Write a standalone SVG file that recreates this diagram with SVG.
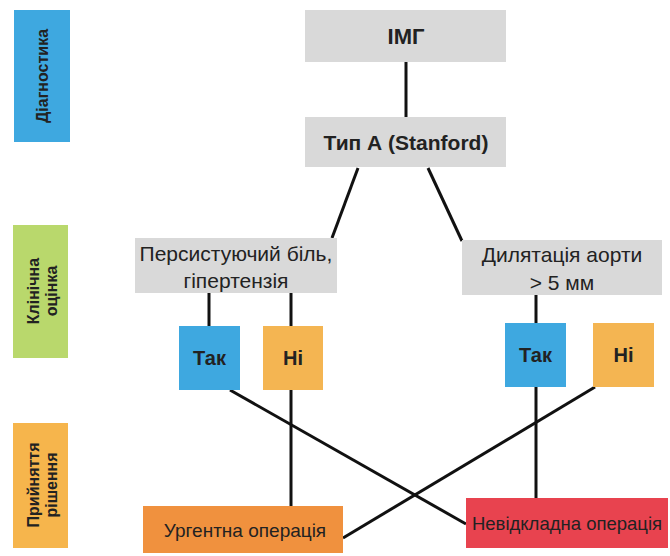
<svg xmlns="http://www.w3.org/2000/svg" width="670" height="556" viewBox="0 0 670 556">
<style>
text{font-family:"Liberation Sans",Arial,sans-serif;fill:#222;text-anchor:middle}
.b{font-weight:bold}
.gray{fill:#d9d9d9}
.blue{fill:#3ea8e0}
.yel{fill:#f4b552}
.side{font-size:16px;font-weight:bold}
.lbl{font-size:21px}
.ln{stroke:#111;stroke-width:3;fill:none}
</style>
<rect width="670" height="556" fill="#fff"/>
<g id="sidebar">
<g id="s-diag"><rect x="14" y="10" width="56" height="132" fill="#3ea8e0"/><text class="side" transform="translate(48,76) rotate(-90)">Діагностика</text></g>
<g id="s-clin"><rect x="13" y="225" width="55" height="133" fill="#b9d86c"/><text class="side" transform="translate(39,291) rotate(-90)">Клінічна</text><text class="side" transform="translate(57,291) rotate(-90)">оцінка</text></g>
<g id="s-dec"><rect x="13" y="423" width="55" height="125" fill="#f6b54c"/><text class="side" transform="translate(39,485) rotate(-90)">Прийняття</text><text class="side" transform="translate(57,485) rotate(-90)">рішення</text></g>
</g>
<g id="connectors">
<line class="ln" x1="406" y1="62" x2="406" y2="117"/>
<line class="ln" x1="358" y1="168" x2="332" y2="238"/>
<line class="ln" x1="428" y1="168" x2="462" y2="241"/>
<line class="ln" x1="209" y1="293" x2="209" y2="326"/>
<line class="ln" x1="291" y1="293" x2="291" y2="326"/>
<line class="ln" x1="536" y1="295" x2="536" y2="323"/>
<line class="ln" x1="291" y1="390" x2="291" y2="506"/>
<line class="ln" x1="230" y1="390" x2="466" y2="524"/>
<line class="ln" x1="536" y1="387" x2="536" y2="498"/>
<line class="ln" x1="595" y1="387" x2="343" y2="538"/>
</g>
<g id="n-img"><rect class="gray" x="305" y="10" width="201" height="52"/><text class="b" x="406" y="44" font-size="22">ІМГ</text></g>
<g id="n-typeA"><rect class="gray" x="305" y="117" width="201" height="50"/><text class="b" x="406" y="150" font-size="21">Тип А (Stanford)</text></g>
<g id="n-pain"><rect class="gray" x="135" y="238" width="202" height="55"/><text class="lbl" x="236" y="261">Персистуючий біль,</text><text class="lbl" x="236" y="288">гіпертензія</text></g>
<g id="n-dil"><rect class="gray" x="462" y="240" width="200" height="55"/><text class="lbl" x="562" y="262">Дилятація аорти</text><text class="lbl" x="562" y="290">&gt; 5 мм</text></g>
<g id="n-yes1"><rect class="blue" x="179" y="326" width="61" height="64"/><text class="b" x="209.5" y="365" font-size="20">Так</text></g>
<g id="n-no1"><rect class="yel" x="263" y="326" width="60" height="64"/><text class="b" x="293" y="365" font-size="20">Ні</text></g>
<g id="n-yes2"><rect class="blue" x="505" y="323" width="61" height="64"/><text class="b" x="535.5" y="362" font-size="20">Так</text></g>
<g id="n-no2"><rect class="yel" x="593" y="323" width="61" height="64"/><text class="b" x="623.5" y="362" font-size="20">Ні</text></g>
<g id="n-urgent"><rect x="143" y="506" width="200" height="47" fill="#f0913e"/><text x="245" y="537" font-size="19">Ургентна операція</text></g>
<g id="n-emerg"><rect x="466" y="498" width="202" height="50" fill="#e8434f"/><text x="567" y="530" font-size="18.5">Невідкладна операція</text></g>
</svg>
